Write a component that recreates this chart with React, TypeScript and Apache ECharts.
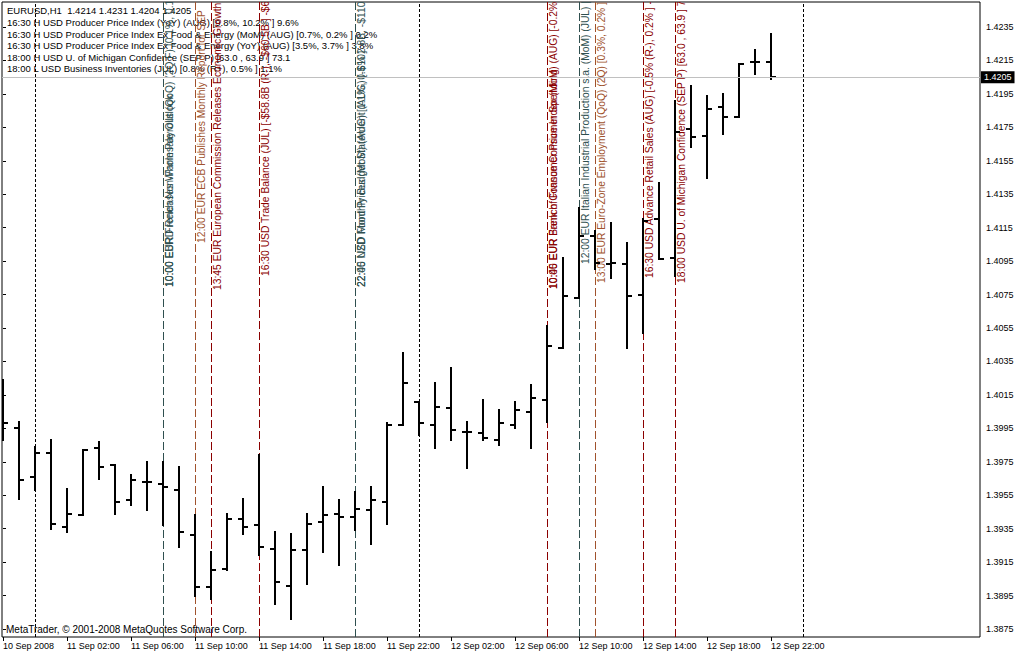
import React, { useEffect, useRef } from "react";
import * as echarts from "echarts";

// ---- data ----
const tickLabels = [
  "10 Sep 2008", "11 Sep 02:00", "11 Sep 06:00", "11 Sep 10:00", "11 Sep 14:00",
  "11 Sep 18:00", "11 Sep 22:00", "12 Sep 02:00", "12 Sep 06:00", "12 Sep 10:00",
  "12 Sep 14:00", "12 Sep 18:00", "12 Sep 22:00",
];
const tickBars = [0, 4, 8, 12, 16, 20, 24, 28, 32, 36, 40, 44, 48];

const opens = [
  1.4015, 1.3995, 1.3966, 1.3980, 1.3936, 1.3943, 1.3983, 1.3973, 1.3952, 1.3963,
  1.3962, 1.3958, 1.3931, 1.3900, 1.3911, 1.3941, 1.3937, 1.3923, 1.3901, 1.3922,
  1.3939, 1.3944, 1.3942, 1.3946, 1.3951, 1.3997, 1.4011, 1.3997, 1.4007, 1.3993,
  1.3992, 1.3988, 1.3997, 1.4005, 1.4012, 1.4043, 1.4073, 1.4110, 1.4093, 1.4093,
  1.4075, 1.4120, 1.4097, 1.4174, 1.4170, 1.4187, 1.4181, 1.4214, 1.4214,
];
const highs = [
  1.4024, 1.3999, 1.3984, 1.3988, 1.3959, 1.3982, 1.3987, 1.3973, 1.3967, 1.3975,
  1.3975, 1.3972, 1.3943, 1.3921, 1.3944, 1.3953, 1.3979, 1.3933, 1.3932, 1.3944,
  1.3960, 1.3952, 1.3957, 1.3960, 1.3998, 1.4040, 1.4011, 1.4022, 1.4031, 1.3999,
  1.4012, 1.4006, 1.4011, 1.4021, 1.4056, 1.4097, 1.4127, 1.4113, 1.4118, 1.4106,
  1.4120, 1.4142, 1.4191, 1.4200, 1.4194, 1.4195, 1.4213, 1.4221, 1.4231,
];
const lows = [
  1.3988, 1.3953, 1.3958, 1.3935, 1.3933, 1.3943, 1.3965, 1.3944, 1.3949, 1.3946,
  1.3937, 1.3924, 1.3895, 1.3893, 1.3910, 1.3932, 1.3919, 1.3890, 1.3881, 1.3902,
  1.3921, 1.3913, 1.3934, 1.3926, 1.3938, 1.3997, 1.3991, 1.3983, 1.3988, 1.3971,
  1.3988, 1.3985, 1.3995, 1.3983, 1.3999, 1.4043, 1.4073, 1.4090, 1.4085, 1.4043,
  1.4052, 1.4096, 1.4086, 1.4163, 1.4145, 1.4171, 1.4181, 1.4207, 1.4204,
];
const closes = [
  1.3998, 1.3964, 1.3980, 1.3938, 1.3944, 1.3982, 1.3972, 1.3951, 1.3964, 1.3963,
  1.3960, 1.3933, 1.3900, 1.3910, 1.3941, 1.3936, 1.3924, 1.3903, 1.3922, 1.3938,
  1.3943, 1.3942, 1.3947, 1.3952, 1.3997, 1.4022, 1.3998, 1.4008, 1.3994, 1.3993,
  1.3989, 1.3998, 1.4006, 1.4013, 1.4044, 1.4074, 1.4110, 1.4094, 1.4094, 1.4074,
  1.4119, 1.4096, 1.4172, 1.4169, 1.4186, 1.4181, 1.4213, 1.4214, 1.4205,
];

const priceTicks = [
  1.3875, 1.3895, 1.3915, 1.3935, 1.3955, 1.3975, 1.3995, 1.4015, 1.4035, 1.4055,
  1.4075, 1.4095, 1.4115, 1.4135, 1.4155, 1.4175, 1.4195, 1.4215, 1.4235,
];
const lastPrice = 1.4205;
const daySeparators = [2, 26, 50];

const headerLines = [
  "EURUSD,H1  1.4214 1.4231 1.4204 1.4205",
  "16:30 H USD Producer Price Index (YoY) (AUG) [9.8%, 10.2% ] 9.6%",
  "16:30 H USD Producer Price Index Ex Food & Energy (MoM) (AUG) [0.7%, 0.2% ] 0.2%",
  "16:30 H USD Producer Price Index Ex Food & Energy (YoY) (AUG) [3.5%, 3.7% ] 3.8%",
  "18:00 H USD U. of Michigan Confidence (SEP P) [63.0 , 63.9 ] 73.1",
  "18:00 L USD Business Inventories (JUL) [0.8% (R+), 0.5% ] 1.1%",
];
const copyright = "MetaTrader, © 2001-2008 MetaQuotes Software Corp.";

const eventBars = [10, 12, 13, 16, 22, 34, 36, 37, 40, 42];
const eventKinds = ["teal", "sienna", "red", "red", "teal", "red", "teal", "sienna", "red", "red"];
const eventTexts = [
  ["10:00 EUR French Non-Farm Payrolls (QoQ) (2Q F) [0.1%, 0.1% ]", "10:00 EBRD Releases Wholesale Outlook"],
  ["12:00 EUR ECB Publishes Monthly Report for SEP"],
  ["13:45 EUR European Commission Releases Economic Growth Forecasts"],
  ["16:30 USD Trade Balance (JUL) [-$58.8B (R-), -$60.5B ] -$62.2B"],
  ["22:00 USD Monthly Budget Statement (AUG) [-$102.8B, -$110.8B ]", "22:45 NZD Food Prices (MoM) (AUG) [1.1%, 0.6% ]"],
  ["10:45 EUR French Consumer Price Index (MoM) (AUG) [-0.2%, -0.2% ]", "10:00 EUR Bank of France Consumer Spending"],
  ["12:00 EUR Italian Industrial Production s.a. (MoM) (JUL) [-0.9%, 0.2% ]"],
  ["13:00 EUR Euro-Zone Employment (QoQ) (2Q) [0.3%, 0.2% ]"],
  ["16:30 USD Advance Retail Sales (AUG) [-0.5% (R-), 0.2% ] -0.3%"],
  ["18:00 USD U. of Michigan Confidence (SEP P) [63.0 , 63.9 ] 73.1"],
];

// ---- layout / style ----
const W = 1018;
const H = 654;
const GRID = { left: 2, top: 2, right: 38, bottom: 17 };
const Y_MIN = 1.387022;
const Y_MAX = 1.424995;
const X_MIN = -0.0625;
const X_MAX = 61.0625;
const FONT = '"Liberation Sans", Arial, sans-serif';
const eventColors: Record<string, string> = {
  teal: "#2F4F4F",
  sienna: "#A0522D",
  red: "#8B0000",
};
const eventLabelY = [287, 243, 290, 276, 287, 289, 264, 283, 278, 283];

export default function App() {
  const ref = useRef<HTMLDivElement>(null);

  useEffect(() => {
    if (!ref.current) return;
    const chart = echarts.init(ref.current, undefined, { renderer: "svg", width: W, height: H });

    const ohlc = opens.map((o, i) => [i, o, highs[i], lows[i], closes[i]]);
    const events = eventBars.map((b, k) => [b, k]);

    const option: any = {
      animation: false,
      backgroundColor: "#ffffff",
      grid: {
        left: GRID.left,
        top: GRID.top,
        right: GRID.right,
        bottom: GRID.bottom,
        show: true,
        borderColor: "#000",
        borderWidth: 1,
        backgroundColor: "transparent",
      },
      xAxis: {
        type: "value",
        min: X_MIN,
        max: X_MAX,
        axisLine: { show: false },
        splitLine: { show: false },
        axisTick: {
          show: true,
          customValues: tickBars,
          length: 4,
          lineStyle: { color: "#000" },
        },
        axisLabel: {
          show: true,
          customValues: tickBars,
          formatter: (v: number) => {
            const k = tickBars.indexOf(Math.round(v));
            return k >= 0 ? tickLabels[k] : "";
          },
          align: "left",
          margin: 4,
          color: "#000",
          fontSize: 9,
          fontFamily: FONT,
        },
      },
      yAxis: {
        type: "value",
        position: "right",
        min: Y_MIN,
        max: Y_MAX,
        scale: true,
        axisLine: { show: false },
        splitLine: { show: false },
        axisTick: {
          show: true,
          customValues: priceTicks,
          length: 3,
          lineStyle: { color: "#000" },
        },
        axisLabel: {
          show: true,
          customValues: priceTicks,
          formatter: (v: number) => v.toFixed(4),
          margin: 6,
          color: "#000",
          fontSize: 9,
          fontFamily: FONT,
        },
      },
      series: [
        {
          type: "line",
          data: [],
          silent: true,
          markLine: {
            silent: true,
            precision: 4,
            symbol: ["none", "none"],
            label: { show: false },
            lineStyle: { color: "#000", type: [3, 2], width: 1 },
            data: daySeparators.map((d) => ({ xAxis: d })),
          },
        },
        {
          type: "line",
          data: [],
          silent: true,
          markLine: {
            silent: true,
            precision: 4,
            symbol: ["none", "none"],
            lineStyle: { color: "#C0C0C0", type: "solid", width: 1 },
            label: {
              show: true,
              position: "end",
              distance: 1,
              formatter: () => lastPrice.toFixed(4),
              color: "#fff",
              backgroundColor: "#000",
              padding: [2, 3, 1, 3],
              fontSize: 9,
              fontFamily: FONT,
            },
            data: [{ yAxis: lastPrice }],
          },
        },
        {
          type: "custom",
          clip: true,
          silent: true,
          data: events,
          encode: { x: 0 },
          renderItem: (params: any, api: any) => {
            const b = api.value(0);
            const k = api.value(1);
            const cs = params.coordSys;
            const x = Math.round(api.coord([b, Y_MIN])[0]) + 0.5;
            const color = eventColors[eventKinds[k]];
            const children: any[] = [
              {
                type: "line",
                shape: { x1: x, y1: cs.y, x2: x, y2: cs.y + cs.height },
                style: { stroke: color, lineWidth: 1, lineDash: [8, 3] },
              },
            ];
            eventTexts[k].forEach((t) => {
              children.push({
                type: "text",
                x: x + 1,
                y: eventLabelY[k],
                rotation: Math.PI / 2,
                style: {
                  text: t,
                  fill: color,
                  font: `10.3px ${FONT}`,
                  align: "left",
                  verticalAlign: "top",
                },
              });
            });
            return { type: "group", children };
          },
        },
        {
          type: "custom",
          clip: true,
          silent: true,
          data: ohlc,
          encode: { x: 0, y: [1, 2, 3, 4] },
          renderItem: (params: any, api: any) => {
            const i = api.value(0);
            const pO = api.coord([i, api.value(1)]);
            const pH = api.coord([i, api.value(2)]);
            const pL = api.coord([i, api.value(3)]);
            const pC = api.coord([i, api.value(4)]);
            const x = Math.round(pO[0]);
            const yO = Math.round(pO[1]);
            const yH = Math.round(pH[1]);
            const yL = Math.round(pL[1]);
            const yC = Math.round(pC[1]);
            return {
              type: "group",
              children: [
                { type: "rect", shape: { x: x - 1, y: yH - 1, width: 2, height: yL - yH + 2 }, style: { fill: "#000" } },
                { type: "rect", shape: { x: x - 5, y: yO - 1, width: 5, height: 2 }, style: { fill: "#000" } },
                { type: "rect", shape: { x: x, y: yC - 1, width: 5, height: 2 }, style: { fill: "#000" } },
              ],
            };
          },
        },
      ],
      graphic: [
        ...headerLines.map((t, k) => ({
          type: "text",
          x: 7,
          y: 10.7 + k * 11.65,
          silent: true,
          style: { text: t, fill: "#000", font: `9.5px ${FONT}`, verticalAlign: "middle" },
        })),
        {
          type: "text",
          x: 6,
          y: 629,
          silent: true,
          style: { text: copyright, fill: "#000", font: `10px ${FONT}`, verticalAlign: "middle" },
        },
      ],
    };

    chart.setOption(option);
    return () => chart.dispose();
  }, []);

  return (
    <div
      ref={ref}
      style={{ position: "absolute", left: 0, top: 0, width: W, height: H, background: "#fff" }}
    />
  );
}
